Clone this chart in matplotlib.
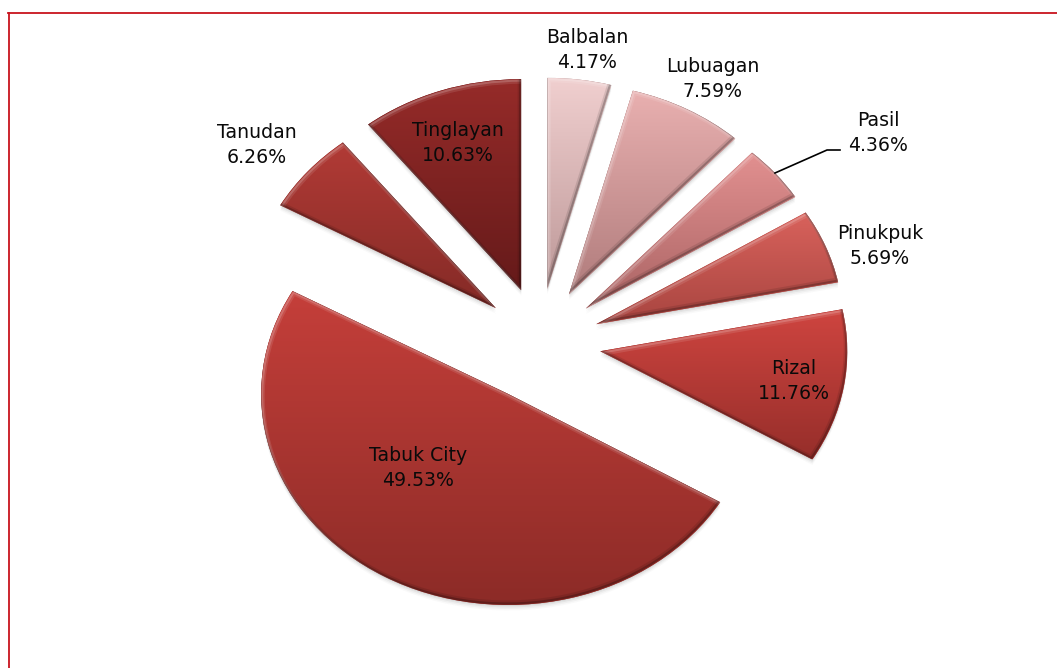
import numpy as np
import matplotlib
matplotlib.use('Agg')
import matplotlib.pyplot as plt
from matplotlib.patches import Wedge
from matplotlib.transforms import Affine2D

# Data
names = ['Balbalan', 'Lubuagan', 'Pasil', 'Pinukpuk', 'Rizal', 'Tabuk City', 'Tanudan', 'Tinglayan']
shares = [4.17, 7.59, 4.36, 5.69, 11.76, 49.53, 6.26, 10.63]
explode = [0.23, 0.235, 0.225, 0.24, 0.26, 0.29, 0.24, 0.22]

# small pixel corrections to the exploded slices
nudge = [(0, 0), (1, 1), (3, 2), (1, 6), (-3, 5), (4, 4), (1, 4), (-1, -3)]

# top and bottom colour of each slice
top_colors = ['#f0cfcf', '#e9b0b0', '#e29090', '#d9625c', '#cf4540', '#c53f3a', '#b23b36', '#962b29']
bottom_colors = ['#bd9898', '#b07c7c', '#aa6464', '#a84540', '#962e2a', '#8c2b27', '#842a26', '#651a1a']

# label pixel centres
label_pos = [(587, 50), (713, 79), (878, 133), (880, 246), (794, 381), (418, 468), (257, 145), (458, 143)]

# pixel layout of the pie (it is squashed vertically)
cx, cy = 540, 337
rx, ry = 247, 211
W, H = 1057, 668

fig = plt.figure(figsize=(W / 100, H / 100), dpi=100)
ax = fig.add_axes([0, 0, 1, 1])

wedges, _ = ax.pie(shares, explode=explode, startangle=90, counterclock=False, radius=1)


def hex_rgb(c):
    return np.array(matplotlib.colors.to_rgb(c))


for w, c1, c2, (nx, ny) in zip(wedges, top_colors, bottom_colors, nudge):
    x0 = w.center[0] + nx / rx
    y0 = w.center[1] - ny / ry
    w.set_center((x0, y0))
    w.set_facecolor(c2)
    w.set_edgecolor('none')
    w.set_zorder(3)

    # soft shadow under the slice
    for off, a in [(1, 0.10), (2.5, 0.08), (4, 0.05), (5.5, 0.03)]:
        s = Wedge((x0, y0), w.r, w.theta1, w.theta2, fc='#555555', ec='none', alpha=a, zorder=1)
        s.set_transform(ax.transData + Affine2D().translate(0, -off))
        ax.add_patch(s)

    # vertical gradient
    ext = w.get_path().get_extents(w.get_patch_transform())
    t = np.linspace(0, 1, 200)[:, None, None]
    grad = hex_rgb(c1)[None, None, :] * (1 - t) + hex_rgb(c2)[None, None, :] * t
    im = ax.imshow(grad, extent=[ext.x0, ext.x1, ext.y0, ext.y1], origin='upper', aspect='auto', zorder=4)
    im.set_clip_path(w)

    # bevel: light on top/left edges, dark on bottom/right edges
    for lw, a, col, ox, oy in [(3, 0.10, 'white', 1.5, -2.5), (1.5, 0.18, 'white', 1, -1.5),
                               (3, 0.10, 'black', -1.5, 2.5), (1.5, 0.22, 'black', -1, 1.5)]:
        b = Wedge((x0, y0), w.r, w.theta1, w.theta2, fill=False, ec=col, lw=lw, alpha=a, zorder=5)
        b.set_transform(ax.transData + Affine2D().translate(ox, oy))
        ax.add_patch(b)
        b.set_clip_path(w)

ax.set_aspect('auto')
ax.set_xlim((0 - cx) / rx, (W - cx) / rx)
ax.set_ylim((cy - H) / ry, cy / ry)
ax.axis('off')


def px(x, y):
    return (x - cx) / rx, (cy - y) / ry


# Labels
for name, val, (lx, ly) in zip(names, shares, label_pos):
    ax.text(*px(lx, ly), f'{name}\n{val:.2f}%', ha='center', va='center', fontsize=13.6,
            family='DejaVu Sans', color='#0a0a0a', linespacing=1.35, zorder=10)

# Leader line for Pasil
lead = [px(775, 173), px(827, 150), px(840, 150)]
ax.plot([p[0] for p in lead], [p[1] for p in lead], color='black', lw=1.2, zorder=6)

# Red frame, only top and left are in view
fig.add_artist(plt.Line2D([8.5 / W, 8.5 / W], [0, 1 - 12.5 / H], color='#c8141e', lw=1.3))
fig.add_artist(plt.Line2D([8 / W, 1], [1 - 12.5 / H, 1 - 12.5 / H], color='#c8141e', lw=1.3))

fig.savefig('out.png', dpi=100, facecolor='white')
